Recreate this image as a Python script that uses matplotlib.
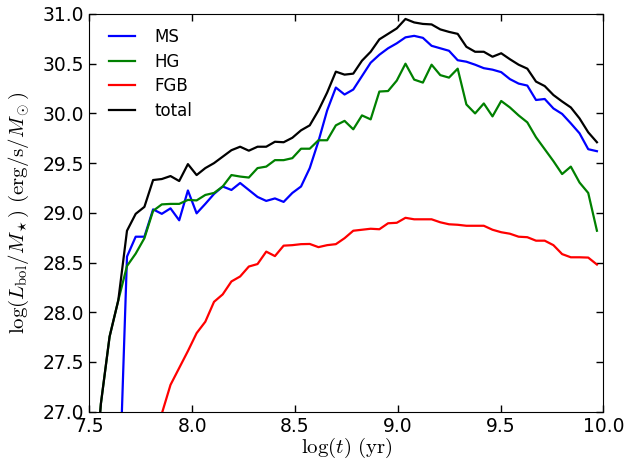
import numpy as np
import matplotlib
matplotlib.use("Agg")
import matplotlib.pyplot as plt

# log(t) grid (yr), evenly spaced bins
log_t = np.linspace(7.514, 9.969, 59)

nan = np.nan

# log(L_bol/M) in erg/s/Msun
ms = [nan, nan, nan, 25.9, 28.56, 28.76, 28.76, 29.035, 28.99, 29.045,
      28.925, 29.225, 28.995, 29.09, 29.19, 29.265, 29.23, 29.30, 29.23, 29.16,
      29.12, 29.145, 29.11, 29.20, 29.265, 29.45, 29.72, 30.03, 30.26, 30.19,
      30.24, 30.375, 30.51, 30.59, 30.655, 30.705, 30.765, 30.78, 30.76, 30.68,
      30.655, 30.63, 30.535, 30.52, 30.49, 30.455, 30.44, 30.415, 30.345, 30.30,
      30.28, 30.135, 30.145, 30.05, 29.995, 29.90, 29.80, 29.64, 29.62]

hg = [26.0, 27.08, 27.755, 28.12, 28.465, 28.59, 28.745, 29.02, 29.085, 29.09,
      29.09, 29.13, 29.125, 29.18, 29.20, 29.265, 29.38, 29.365, 29.355, 29.45,
      29.465, 29.53, 29.53, 29.55, 29.645, 29.645, 29.73, 29.73, 29.88, 29.925,
      29.84, 29.98, 29.94, 30.22, 30.225, 30.33, 30.50, 30.34, 30.31, 30.49,
      30.385, 30.36, 30.45, 30.09, 30.00, 30.10, 29.97, 30.125, 30.06, 29.98,
      29.91, 29.76, 29.64, 29.52, 29.39, 29.465, 29.305, 29.20, 28.82]

fgb = [nan, nan, nan, nan, nan, nan, nan, 26.7, 26.98, 27.27,
       27.44, 27.61, 27.79, 27.905, 28.105, 28.18, 28.31, 28.36, 28.46, 28.485,
       28.61, 28.565, 28.67, 28.675, 28.685, 28.687, 28.655, 28.675, 28.685, 28.745,
       28.82, 28.83, 28.84, 28.835, 28.895, 28.90, 28.95, 28.935, 28.935, 28.935,
       28.905, 28.885, 28.88, 28.87, 28.87, 28.87, 28.83, 28.805, 28.79, 28.76,
       28.755, 28.72, 28.72, 28.675, 28.585, 28.553, 28.553, 28.55, 28.48]

total = [26.0, 27.08, 27.755, 28.12, 28.82, 28.99, 29.06, 29.33, 29.34, 29.37,
         29.32, 29.49, 29.38, 29.45, 29.50, 29.565, 29.63, 29.665, 29.625, 29.665,
         29.665, 29.715, 29.71, 29.755, 29.83, 29.88, 30.03, 30.21, 30.42, 30.39,
         30.40, 30.53, 30.62, 30.745, 30.80, 30.855, 30.95, 30.915, 30.90, 30.895,
         30.845, 30.82, 30.80, 30.67, 30.62, 30.62, 30.57, 30.605, 30.545, 30.49,
         30.45, 30.32, 30.275, 30.185, 30.12, 30.06, 29.95, 29.81, 29.71]

series = [("MS", ms, "b"), ("HG", hg, "g"), ("FGB", fgb, "r"), ("total", total, "k")]

plt.rcParams["mathtext.fontset"] = "cm"
plt.rcParams["font.family"] = "DejaVu Sans"

fig = plt.figure(figsize=(6.32, 4.63), dpi=100)
ax = fig.add_axes([0.1413, 0.1108, 0.8133, 0.859])

for name, vals, col in series:
    ax.plot(log_t, vals, color=col, lw=1.6, label=name)

ax.set_xlim(7.5, 10.0)
ax.set_ylim(27.0, 31.0)
ax.set_xticks(np.arange(7.5, 10.01, 0.5))
ax.set_yticks(np.arange(27.0, 31.01, 0.5))
ax.tick_params(direction="in", top=True, right=True, length=5, width=1,
               labelsize=13.5, pad=4)

ax.set_xlabel(r"$\log(t)\ ({\rm yr})$", fontsize=15, labelpad=0)
ax.set_ylabel(r"$\log(L_{\rm bol}/M_\star)\ ({\rm erg/s}/M_\odot)$", fontsize=15, labelpad=8)

ax.legend(loc="upper left", frameon=False, fontsize=12,
          bbox_to_anchor=(0.039, 0.965), borderaxespad=0, borderpad=0,
          handlelength=1.55, handletextpad=1.15, labelspacing=0.4)

fig.savefig("out.png", dpi=100)
